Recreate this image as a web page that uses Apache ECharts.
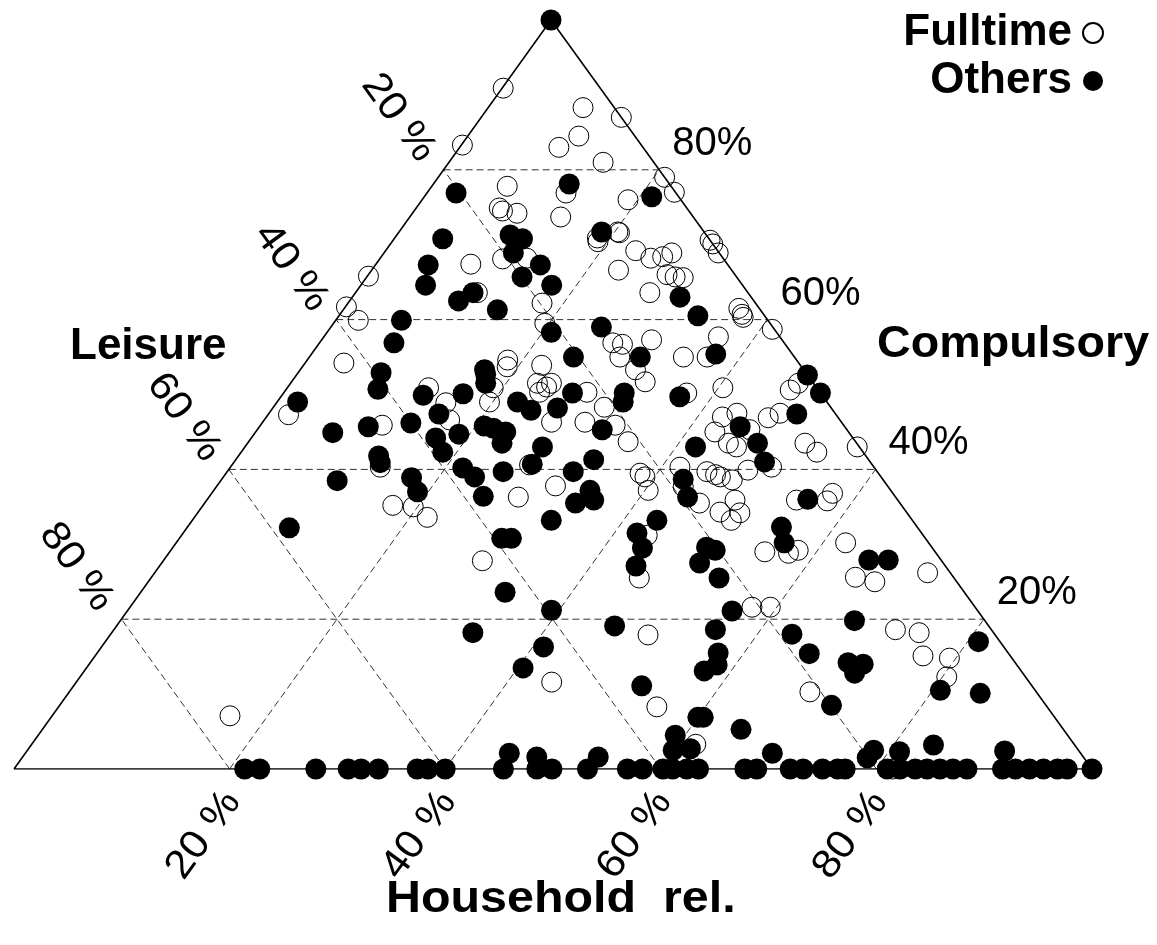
<!DOCTYPE html>
<html>
<head>
<meta charset="utf-8">
<script src="https://cdn.jsdelivr.net/npm/echarts@6/dist/echarts.min.js"></script>
<style>html,body{margin:0;padding:0;background:#fff}#c{width:1157px;height:945px}</style>
</head>
<body>
<div id="c"></div>
<script>
// ---- data: [household %, compulsory %]; leisure % = 100 - household - compulsory
const axisTitles = ['Household  rel.', 'Compulsory', 'Leisure'];
const tickValues = [20, 40, 60, 80];
const tickLabelsRight = ['20%', '40%', '60%', '80%'];
const tickLabelsSpaced = ['20 %', '40 %', '60 %', '80 %'];
const seriesNames = ['Fulltime', 'Others'];

const fulltime = [
  [0.1,90.9],[8.8,88.3],[13.0,87.0],[0.1,83.3],[9.2,83.0],[10.3,84.5],[14.3,81.0],[21.0,79.0],
  [22.9,77.0],[7.0,77.8],[7.7,74.9],[8.2,74.5],[9.7,74.2],[12.9,76.9],[14.0,73.7],[19.1,76.0],
  [20.3,71.7],[29.4,70.6],[8.8,67.4],[11.4,68.1],[13.6,68.2],[18.0,62.2],[19.6,59.5],[0.1,65.8],
  [0.1,61.7],[2.1,59.9],[3.6,54.2],[18.6,54.6],[19.0,53.7],[22.1,53.9],[11.3,63.6],[18.8,70.9],
  [19.1,70.4],[20.5,71.6],[23.2,69.2],[25.1,68.2],[26.1,68.4],[26.7,68.9],[22.9,66.6],[27.7,66.0],
  [28.6,65.7],[29.4,65.6],[27.3,63.6],[29.9,70.1],[31.0,68.9],[36.6,61.5],[37.3,60.7],[37.6,60.3],
  [41.1,58.7],[27.2,56.9],[28.2,56.7],[30.6,57.3],[28.8,55.0],[31.1,53.3],[32.8,51.7],[34.7,55.0],
  [36.9,55.0],[36.6,57.7],[40.4,50.9],[46.8,50.6],[47.1,51.5],[24.2,51.5],[24.0,51.0],[28.1,50.3],
  [37.4,50.2],[1.9,47.3],[11.3,45.9],[13.9,40.3],[13.1,50.9],[15.7,48.9],[17.2,46.6],[19.7,49.0],
  [19.1,50.9],[22.9,51.5],[23.7,50.3],[26.8,46.3],[27.6,40.6],[28.7,36.3],[17.6,35.2],[19.6,35.0],
  [21.6,33.6],[31.4,37.8],[30.7,48.3],[32.9,45.9],[29.9,46.3],[35.2,43.7],[38.4,39.5],[39.1,39.0],
  [40.3,37.2],[42.3,47.0],[43.4,47.5],[42.6,45.0],[44.6,43.5],[45.6,43.0],[45.7,45.3],[41.7,40.3],
  [44.5,39.7],[45.5,39.3],[46.1,39.0],[47.4,38.6],[48.2,39.9],[50.2,40.3],[45.9,35.5],[48.4,34.3],
  [50.0,33.2],[50.3,34.2],[49.0,35.9],[46.6,46.9],[47.4,47.5],[51.7,43.5],[53.4,42.3],[54.7,35.9],
  [57.6,36.8],[56.8,43.0],[62.1,30.2],[55.2,29.0],[58.2,29.2],[43.3,37.7],[29.6,27.8],[44.1,11.6],
  [43.2,31.2],[45.3,25.5],[57.5,28.8],[57.7,21.6],[59.4,21.6],[49.9,17.9],[55.5,8.3],[61.6,3.3],
  [68.7,10.3],[57.6,35.8],[71.7,26.2],[65.3,25.6],[67.4,25.0],[72.5,18.6],[74.9,18.2],[76.8,15.1],
  [79.4,14.8],[80.4,12.3],[81.5,0],[16.5,7.1]
];

const others = [
  [0,100],[2.7,76.9],[12.6,78.1],[21.1,76.4],[4.5,70.8],[10.5,71.3],[11.9,70.8],[18.8,71.7],
  [12.0,68.9],[15.3,67.3],[4.9,67.3],[6.0,64.6],[14.4,65.7],[17.7,64.6],[10.1,62.5],[10.9,63.6],
  [14.3,61.3],[6.1,59.9],[6.9,56.9],[20.8,58.3],[7.7,52.9],[17.1,53.3],[25.1,59.0],[30.4,63.0],
  [33.3,60.5],[24.5,55.0],[30.7,55.0],[37.5,55.4],[47.4,52.6],[49.8,50.2],[26.8,50.2],[31.6,50.2],
  [37.0,49.7],[1.9,49.0],[7.2,44.9],[10.8,38.5],[9.5,32.2],[8.5,50.7],[10.1,45.7],[13.0,41.8],
  [13.6,40.9],[13.8,46.2],[13.1,49.9],[15.8,47.4],[16.7,50.1],[17.1,44.2],[18.7,42.3],[19.0,44.7],
  [17.5,52.7],[18.1,51.5],[20.8,45.8],[21.8,45.5],[23.2,45.0],[23.6,43.5],[22.3,49.0],[24.1,47.9],
  [26.4,48.2],[27.6,43.0],[27.8,40.7],[21.6,40.2],[23.3,39.0],[25.6,39.7],[25.4,36.4],[17.5,38.9],
  [19.0,37.0],[33.3,33.2],[32.1,49.0],[32.0,45.3],[33.2,41.3],[32.1,39.7],[34.9,37.2],[35.9,35.9],
  [34.4,35.5],[44.6,45.7],[47.3,43.5],[41.8,43.0],[49.2,41.0],[49.0,47.4],[42.8,38.7],[44.4,36.3],
  [43.1,33.2],[42.1,31.5],[43.6,29.5],[49.5,29.6],[50.5,29.2],[55.1,32.3],[56.4,30.2],[55.7,36.0],
  [33.5,18.2],[33.8,23.6],[29.9,30.8],[30.8,30.8],[39.3,21.2],[41.0,16.3],[40.5,13.5],[44.9,2.1],
  [47.7,1.6],[44.2,27.1],[49.9,27.5],[52.7,25.5],[46.2,19.1],[56.1,21.1],[55.8,18.6],[57.6,15.5],
  [58.3,13.9],[57.5,13.1],[52.7,11.1],[63.2,18.0],[66.1,15.4],[71.6,8.5],[64.8,5.3],[69.3,2.1],
  [60.0,6.9],[60.5,6.9],[59.1,4.5],[59.9,2.5],[61.4,2.7],[53.4,1.6],[65.4,27.9],[67.2,27.9],
  [68.1,19.8],[70.3,14.2],[71.8,14.0],[71.6,12.8],[81.0,17.0],[80.7,10.5],[84.6,10.1],[78.5,2.5],
  [78.4,1.5],[81.0,2.3],[83.7,3.2],[90.7,2.4],
  [21.4,0],[22.8,0],[28.0,0],[31.0,0],[32.2,0],[33.8,0],[37.4,0],[38.4,0],[40.0,0],[45.4,0],
  [48.5,0],[49.9,0],[53.2,0],[56.9,0],[58.3,0],[60.2,0],[61.1,0],[62.4,0],[63.5,0],[67.8,0],
  [68.9,0],[72.0,0],[73.2,0],[75.0,0],[76.4,0],[77.1,0],[81.0,0],[82.2,0],[83.6,0],[84.7,0],
  [85.9,0],[87.1,0],[88.4,0],[91.7,0],[92.9,0],[94.2,0],[95.5,0],[96.8,0],[97.7,0],[100,0]
];

// ---- ternary -> plane (apex horizontal position as share of the base)
const APEX = 537 / 1078;
function toXY(p) { return [p[0] + p[1] * APEX, p[1]]; }

const chart = echarts.init(document.getElementById('c'), null, {renderer: 'canvas'});

const gridSeries = [];
tickValues.forEach(t => {
  const segs = [
    [[0, t], [100 - t, t]],          // compulsory = t
    [[t, 0], [t, 100 - t]],          // household = t
    [[100 - t, 0], [0, 100 - t]]     // leisure = t
  ];
  segs.forEach(s => gridSeries.push({
    type: 'line', data: s.map(toXY), showSymbol: false, silent: true, z: 1,
    lineStyle: {color: '#333', width: 1, type: [7, 4]}, animation: false
  }));
});

const option = {
  animation: false,
  backgroundColor: '#fff',
  grid: {left: 14, top: 20, width: 1078, height: 749, containLabel: false},
  xAxis: {type: 'value', min: 0, max: 100, show: false},
  yAxis: {type: 'value', min: 0, max: 100, show: false},
  legend: {
    data: seriesNames, orient: 'vertical', right: 48, top: 6, align: 'right',
    icon: 'circle', itemWidth: 20, itemHeight: 20, itemGap: 4, selectedMode: false,
    textStyle: {fontFamily: 'Liberation Sans', fontWeight: 'bold', fontSize: 44, color: '#000',
      lineHeight: 44, padding: [0, 6, 0, 0]}
  },
  series: gridSeries.concat([
    {
      type: 'line', data: [[0, 0], [100, 0], [0, 100], [0, 0]].map(toXY),
      showSymbol: false, silent: true, z: 2,
      lineStyle: {color: '#000', width: 1.6}
    },
    {
      name: seriesNames[0], type: 'scatter', data: fulltime.map(toXY), z: 3,
      symbol: 'circle', symbolSize: 20,
      itemStyle: {color: 'rgba(255,255,255,0)', borderColor: '#000', borderWidth: 1, opacity: 1}
    },
    {
      name: seriesNames[1], type: 'scatter', data: others.map(toXY), z: 4,
      symbol: 'circle', symbolSize: 21,
      itemStyle: {color: '#000', opacity: 1}
    }
  ])
};
chart.setOption(option);

// ---- axis tick labels and titles placed with the chart's own coordinate conversion
const px = p => chart.convertToPixel({gridIndex: 0}, toXY(p));
const tickFont = {fontFamily: 'Liberation Sans', fontSize: 40, fill: '#000'};
const graphics = [];
tickValues.forEach((t, i) => {
  const r = px([100 - t, t]);
  graphics.push({type: 'text', x: r[0] + 13, y: r[1] - 26,
    style: Object.assign({text: tickLabelsRight[i], align: 'left', verticalAlign: 'middle'}, tickFont)});
  const l = px([0, t]);
  const li = tickValues.indexOf(100 - t);
  graphics.push({type: 'text', x: l[0] - 45, y: l[1] - 52, rotation: -54 * Math.PI / 180, scaleX: 1.08,
    style: Object.assign({text: tickLabelsSpaced[li], align: 'center', verticalAlign: 'middle'}, tickFont)});
  const b = px([t, 0]);
  graphics.push({type: 'text', x: b[0] - 26, y: b[1] + 66, rotation: 54 * Math.PI / 180, scaleX: 1.08,
    style: Object.assign({text: tickLabelsSpaced[i], align: 'center', verticalAlign: 'middle'}, tickFont)});
});
const titleFont = {fontFamily: 'Liberation Sans', fontWeight: 'bold', fontSize: 44, fill: '#000'};
graphics.push({type: 'text', x: 386, y: 900, scaleX: 1.1,
  style: Object.assign({text: axisTitles[0], align: 'left', verticalAlign: 'middle'}, titleFont)});
graphics.push({type: 'text', x: 877, y: 345, scaleX: 1.06,
  style: Object.assign({text: axisTitles[1], align: 'left', verticalAlign: 'middle'}, titleFont)});
graphics.push({type: 'text', x: 70, y: 347,
  style: Object.assign({text: axisTitles[2], align: 'left', verticalAlign: 'middle'}, titleFont)});
chart.setOption({graphic: graphics});
</script>
</body>
</html>
